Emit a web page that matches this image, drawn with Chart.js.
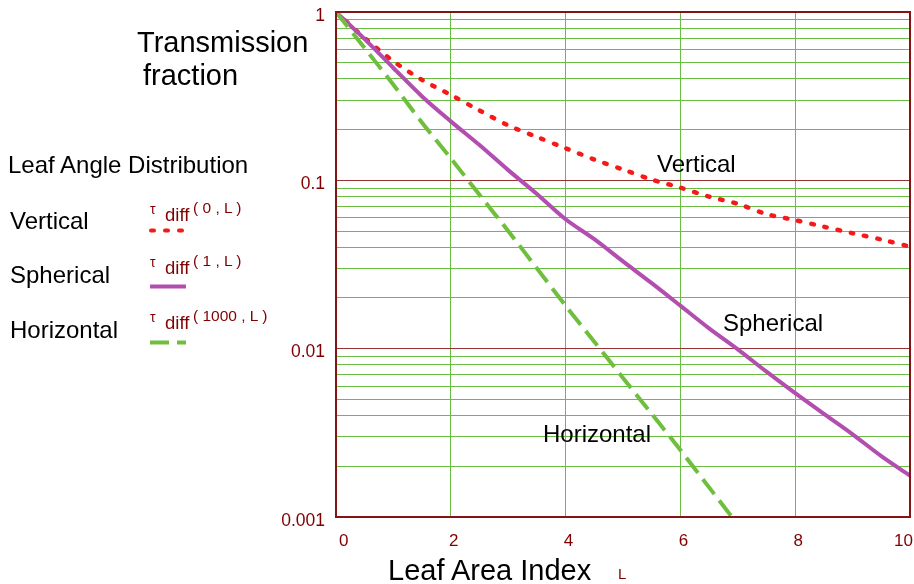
<!DOCTYPE html>
<html>
<head>
<meta charset="utf-8">
<script src="https://cdn.jsdelivr.net/npm/chart.js@4"></script>
<style>
  body { margin: 0; background: #fff; }
  #wrap { position: relative; width: 914px; height: 584px; font-family: "Liberation Sans", Arial, sans-serif; }
  .t { position: absolute; white-space: pre; line-height: 1; transform: translateY(-50%); color: #000; }
  .r { color: #800000; }
</style>
</head>
<body>
<div id="wrap">
  <canvas id="myChart" width="914" height="584"></canvas>

  <div class="t" style="left:137px;top:42px;font-size:29px">Transmission</div>
  <div class="t" style="left:143px;top:75px;font-size:29px">fraction</div>

  <div class="t" style="left:8px;top:165px;font-size:24px">Leaf Angle Distribution</div>
  <div class="t" style="left:10px;top:221px;font-size:24px">Vertical</div>
  <div class="t" style="left:10px;top:275px;font-size:24px">Spherical</div>
  <div class="t" style="left:10px;top:330px;font-size:24px">Horizontal</div>

  <div class="t r" style="left:150px;top:209px;font-size:14px">τ</div>
  <div class="t r" style="left:165px;top:215px;font-size:18.5px">diff</div>
  <div class="t r" style="left:193px;top:208px;font-size:15.5px">( 0 , L )</div>
  <div class="t r" style="left:150px;top:262px;font-size:14px">τ</div>
  <div class="t r" style="left:165px;top:268px;font-size:18.5px">diff</div>
  <div class="t r" style="left:193px;top:261px;font-size:15.5px">( 1 , L )</div>
  <div class="t r" style="left:150px;top:317px;font-size:14px">τ</div>
  <div class="t r" style="left:165px;top:323px;font-size:18.5px">diff</div>
  <div class="t r" style="left:193px;top:316px;font-size:15.5px">( 1000 , L )</div>

  <div class="t" style="left:657px;top:164px;font-size:24px">Vertical</div>
  <div class="t" style="left:723px;top:323px;font-size:24px">Spherical</div>
  <div class="t" style="left:543px;top:434px;font-size:24px">Horizontal</div>

  <div class="t" style="left:388px;top:570px;font-size:29px">Leaf Area Index</div>
  <div class="t r" style="left:618px;top:573px;font-size:15px">L</div>
</div>

<script>
// leaf area index samples
var lai = [0, 0.5, 1, 1.5, 2, 2.5, 3, 3.5, 4, 4.5, 5, 5.5, 6, 6.5, 7, 7.5, 8, 8.5, 9, 9.5, 10];

// transmission fraction
var vertical = [1, 0.7, 0.51, 0.395, 0.322, 0.26, 0.212, 0.181, 0.155, 0.133, 0.116, 0.101, 0.0905,
                0.08, 0.0725, 0.063, 0.058, 0.053, 0.0485, 0.0445, 0.0404];
var spherical = [1, 0.69, 0.465, 0.315, 0.224, 0.162, 0.115, 0.083, 0.0587, 0.0447, 0.033, 0.0245, 0.018,
                 0.0132, 0.0099, 0.0073, 0.00544, 0.0041, 0.0031, 0.0023, 0.00176];
var horizontal = [1, 0.61, 0.37, 0.22, 0.135, 0.082, 0.05, 0.03, 0.018, 0.011, 0.0067, 0.0041, 0.0025,
                  0.0015, 0.0009];

var xTicks = [0, 2, 4, 6, 8, 10];
var yGrid = [0.001, 0.002, 0.003, 0.004, 0.005, 0.006, 0.007, 0.008, 0.009,
             0.01, 0.02, 0.03, 0.04, 0.05, 0.06, 0.07, 0.08, 0.09,
             0.1, 0.2, 0.3, 0.4, 0.5, 0.6, 0.7, 0.8, 0.9, 1];
var yLabels = { 0.001: '0.001', 0.01: '0.01', 0.1: '0.1', 1: '1' };

var RED = 'rgb(245,25,25)';
var PURPLE = 'rgb(178,78,176)';
var GREEN = 'rgb(112,190,62)';
var GRID = 'rgb(105,190,65)';
var DECADE = 'rgb(150,50,50)';
var FRAME = 'rgb(130,20,20)';

function points(vals) {
    var pts = [];
    for (var i = 0; i < vals.length; i++) {
        pts.push({ x: lai[i], y: vals[i] });
    }
    return pts;
}

var framePlugin = {
    id: 'frame',
    afterDraw: function (chart) {
        var ctx = chart.ctx;
        var a = chart.chartArea;
        ctx.save();
        ctx.strokeStyle = FRAME;
        ctx.lineWidth = 2;
        ctx.strokeRect(a.left, a.top, a.right - a.left, a.bottom - a.top);

        // legend line samples
        ctx.lineWidth = 4;
        ctx.lineCap = 'round';
        ctx.strokeStyle = RED;
        ctx.setLineDash([3, 11]);
        ctx.beginPath(); ctx.moveTo(151, 230.5); ctx.lineTo(184, 230.5); ctx.stroke();
        ctx.lineCap = 'butt';
        ctx.strokeStyle = PURPLE;
        ctx.setLineDash([]);
        ctx.beginPath(); ctx.moveTo(150, 286.5); ctx.lineTo(186, 286.5); ctx.stroke();
        ctx.strokeStyle = GREEN;
        ctx.setLineDash([19, 8]);
        ctx.beginPath(); ctx.moveTo(150, 342.5); ctx.lineTo(186, 342.5); ctx.stroke();
        ctx.restore();
    }
};

var ctx = document.getElementById('myChart');
var myChart = new Chart(ctx, {
    type: 'line',
    data: {
        datasets: [{
            label: 'Horizontal',
            data: points(horizontal),
            borderColor: GREEN,
            borderWidth: 4,
            borderDash: [19, 8],
            pointRadius: 0,
            tension: 0.3,
            fill: false
        }, {
            label: 'Spherical',
            data: points(spherical),
            borderColor: PURPLE,
            borderWidth: 4,
            pointRadius: 0,
            tension: 0.3,
            fill: false
        }, {
            label: 'Vertical',
            data: points(vertical),
            borderColor: RED,
            borderWidth: 4.5,
            borderDash: [2.5, 11],
            borderCapStyle: 'round',
            pointRadius: 0,
            tension: 0.3,
            fill: false
        }]
    },
    options: {
        responsive: false,
        animation: false,
        layout: { padding: { left: 0, right: 4, top: 12, bottom: 0 } },
        plugins: { legend: { display: false }, tooltip: { enabled: false } },
        scales: {
            x: {
                type: 'linear',
                min: 0,
                max: 10,
                afterBuildTicks: function (scale) {
                    scale.ticks = xTicks.map(function (v) { return { value: v }; });
                },
                afterFit: function (scale) {
                    scale.height = 67;
                    scale.paddingLeft = 0;
                    scale.paddingRight = 0;
                },
                grid: { color: GRID, lineWidth: 1, drawTicks: false },
                border: { display: false },
                ticks: {
                    color: '#800000',
                    font: { family: 'Liberation Sans, Arial', size: 17 },
                    padding: 14,
                    align: 'inner',
                    labelOffset: 3,
                    maxRotation: 0,
                    autoSkip: false
                }
            },
            y: {
                type: 'logarithmic',
                min: 0.001,
                max: 1,
                afterBuildTicks: function (scale) {
                    scale.ticks = yGrid.map(function (v) { return { value: v }; });
                },
                afterFit: function (scale) {
                    scale.width = 336;
                    scale.paddingTop = 0;
                    scale.paddingBottom = 0;
                },
                grid: {
                    drawTicks: false,
                    lineWidth: 1,
                    color: function (c) {
                        return yLabels[c.tick.value] ? DECADE : GRID;
                    }
                },
                border: { display: false },
                ticks: {
                    color: '#800000',
                    font: { family: 'Liberation Sans, Arial', size: 17.5 },
                    padding: 11,
                    labelOffset: 4,
                    autoSkip: false,
                    callback: function (v) {
                        return yLabels[v] || '';
                    }
                }
            }
        }
    },
    plugins: [framePlugin]
});
</script>
</body>
</html>
